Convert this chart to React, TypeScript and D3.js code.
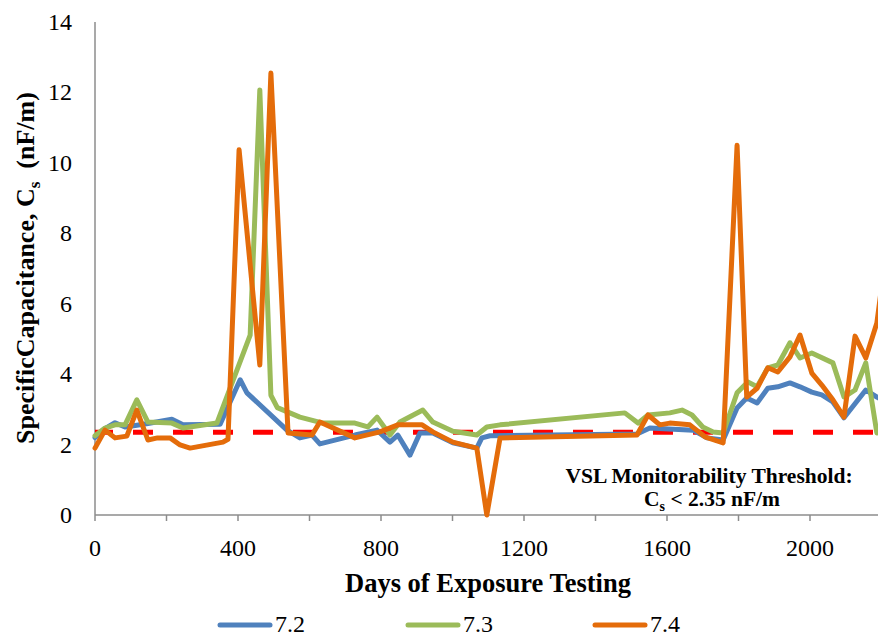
import React from "react";
import * as d3 from "d3";

// ---- Data ----
const days72 = [0, 28, 56, 84, 117, 148, 215, 246, 350, 406, 425, 537, 573, 607, 629, 727, 789, 825, 847, 881, 909, 945, 1001, 1068, 1082, 1105, 1516, 1552, 1673, 1712, 1757, 1796, 1823, 1852, 1882, 1910, 1944, 1972, 2005, 2033, 2064, 2095, 2156, 2187, 2215];
const cs72 = [2.2, 2.45, 2.62, 2.5, 2.55, 2.6, 2.72, 2.56, 2.58, 3.84, 3.47, 2.41, 2.19, 2.27, 2.02, 2.27, 2.41, 2.07, 2.27, 1.7, 2.33, 2.33, 2.05, 1.9, 2.19, 2.25, 2.3, 2.47, 2.41, 2.19, 2.13, 3.04, 3.32, 3.18, 3.6, 3.64, 3.75, 3.64, 3.49, 3.41, 3.21, 2.76, 3.55, 3.35, 3.2];

const days73 = [0, 28, 56, 84, 117, 148, 215, 246, 341, 434, 461, 492, 510, 573, 638, 727, 763, 789, 825, 853, 917, 945, 1001, 1068, 1096, 1133, 1482, 1519, 1547, 1608, 1642, 1670, 1700, 1729, 1757, 1796, 1826, 1852, 1882, 1910, 1944, 1972, 2005, 2064, 2095, 2126, 2156, 2187];
const cs73 = [2.25, 2.47, 2.56, 2.56, 3.27, 2.64, 2.61, 2.47, 2.61, 5.11, 12.07, 3.4, 3.05, 2.78, 2.61, 2.61, 2.5, 2.78, 2.27, 2.64, 2.98, 2.64, 2.38, 2.27, 2.5, 2.56, 2.9, 2.61, 2.84, 2.9, 2.98, 2.84, 2.5, 2.36, 2.33, 3.47, 3.78, 3.64, 4.18, 4.26, 4.89, 4.46, 4.6, 4.32, 3.35, 3.55, 4.32, 2.33];

const days74 = [0, 28, 56, 89, 117, 148, 175, 210, 238, 266, 358, 372, 403, 461, 492, 540, 607, 629, 727, 797, 847, 915, 945, 1001, 1068, 1096, 1133, 1516, 1547, 1580, 1608, 1664, 1706, 1757, 1796, 1823, 1852, 1882, 1910, 1944, 1972, 2005, 2033, 2064, 2095, 2126, 2156, 2187, 2215];
const cs74 = [1.9, 2.41, 2.19, 2.24, 2.98, 2.13, 2.19, 2.19, 1.99, 1.9, 2.07, 2.15, 10.37, 4.26, 12.55, 2.33, 2.27, 2.64, 2.19, 2.36, 2.56, 2.56, 2.36, 2.07, 1.9, 0, 2.19, 2.27, 2.84, 2.56, 2.61, 2.56, 2.22, 2.05, 10.5, 3.35, 3.6, 4.18, 4.06, 4.49, 5.11, 4.03, 3.69, 3.27, 2.78, 5.08, 4.46, 5.45, 7.6];

const seriesNames = ["7.2", "7.3", "7.4"];
const seriesColors = ["#4F81BD", "#9BBB59", "#E46C0A"];
const threshold = 2.35;

const xTicksMajor = [0, 400, 800, 1200, 1600, 2000];
const xTicksMinor = [0, 200, 400, 600, 800, 1000, 1200, 1400, 1600, 1800, 2000, 2200];
const yTicks = [0, 2, 4, 6, 8, 10, 12, 14];

const W = 878;
const H = 638;
const FONT = "Liberation Serif, Times New Roman, DejaVu Serif, serif";

export default function App() {
  const x = d3.scaleLinear().domain([0, 2400]).range([95, 953]);
  const y = d3.scaleLinear().domain([0, 14]).range([515, 22]);

  const series = [
    { name: seriesNames[0], color: seriesColors[0], pts: days72.map((d, i) => [d, cs72[i]] as [number, number]) },
    { name: seriesNames[1], color: seriesColors[1], pts: days73.map((d, i) => [d, cs73[i]] as [number, number]) },
    { name: seriesNames[2], color: seriesColors[2], pts: days74.map((d, i) => [d, cs74[i]] as [number, number]) },
  ];

  const line = d3
    .line<[number, number]>()
    .x((p) => x(p[0]))
    .y((p) => y(p[1]));

  const axisColor = "#8C8C8C";
  const legendX = [220, 408, 595];

  return (
    <div style={{ position: "fixed", left: 0, top: 0, width: W, height: H, background: "#fff" }}>
      <svg width={W} height={H} viewBox={`0 0 ${W} ${H}`} style={{ display: "block" }}>
        <rect x={0} y={0} width={W} height={H} fill="#fff" />
        {/* axes */}
        <line x1={x(0)} x2={x(0)} y1={y(14)} y2={y(0)} stroke={axisColor} strokeWidth={1.5} />
        <line x1={x(0)} x2={W} y1={y(0)} y2={y(0)} stroke={axisColor} strokeWidth={1.5} />
        {xTicksMinor.map((t) => (
          <line key={"xt" + t} x1={x(t)} x2={x(t)} y1={y(0)} y2={y(0) + 6} stroke={axisColor} strokeWidth={1.5} />
        ))}
        {xTicksMajor.map((t) => (
          <text key={"xl" + t} x={x(t)} y={556} textAnchor="middle" fontSize={24} fontFamily={FONT} fill="#000">
            {t}
          </text>
        ))}
        {yTicks.map((t) => (
          <text key={"yl" + t} x={72} y={y(t) + 8} textAnchor="end" fontSize={24} fontFamily={FONT} fill="#000">
            {t}
          </text>
        ))}

        {/* threshold */}
        <line
          x1={x(0)}
          x2={W}
          y1={y(threshold)}
          y2={y(threshold)}
          stroke="#FF0000"
          strokeWidth={5}
          strokeDasharray="20 20"
          strokeDashoffset={2}
        />

        {/* series */}
        {series.map((s) => (
          <path
            key={s.name}
            d={line(s.pts) || ""}
            fill="none"
            stroke={s.color}
            strokeWidth={5}
            strokeLinejoin="round"
            strokeLinecap="round"
          />
        ))}

        {/* annotation */}
        <text x={709} y={483} textAnchor="middle" fontSize={21.5} fontWeight="bold" fontFamily={FONT} fill="#000">
          VSL Monitorability Threshold:
        </text>
        <text x={712} y={506} textAnchor="middle" fontSize={21.5} fontWeight="bold" fontFamily={FONT} fill="#000">
          C<tspan fontSize={14} dy={5}>s</tspan>
          <tspan dy={-5}> &lt; 2.35 nF/m</tspan>
        </text>

        {/* axis titles */}
        <text x={488} y={592} textAnchor="middle" fontSize={26.5} fontWeight="bold" fontFamily={FONT} fill="#000">
          Days of Exposure Testing
        </text>
        <text
          transform="translate(34,268) rotate(-90)"
          textAnchor="middle"
          fontSize={26}
          fontWeight="bold"
          fontFamily={FONT}
          fill="#000"
          style={{ whiteSpace: "pre" }}
        >
          SpecificCapacitance, C<tspan fontSize={17} dy={6}>s</tspan>
          <tspan dy={-6}>{"  (nF/m)"}</tspan>
        </text>

        {/* legend */}
        {series.map((s, i) => (
          <g key={"lg" + s.name}>
            <line x1={legendX[i]} x2={legendX[i] + 50} y1={625} y2={625} stroke={s.color} strokeWidth={5} strokeLinecap="round" />
            <text x={legendX[i] + 55} y={632} fontSize={24} fontFamily={FONT} fill="#000">
              {s.name}
            </text>
          </g>
        ))}
      </svg>
    </div>
  );
}
